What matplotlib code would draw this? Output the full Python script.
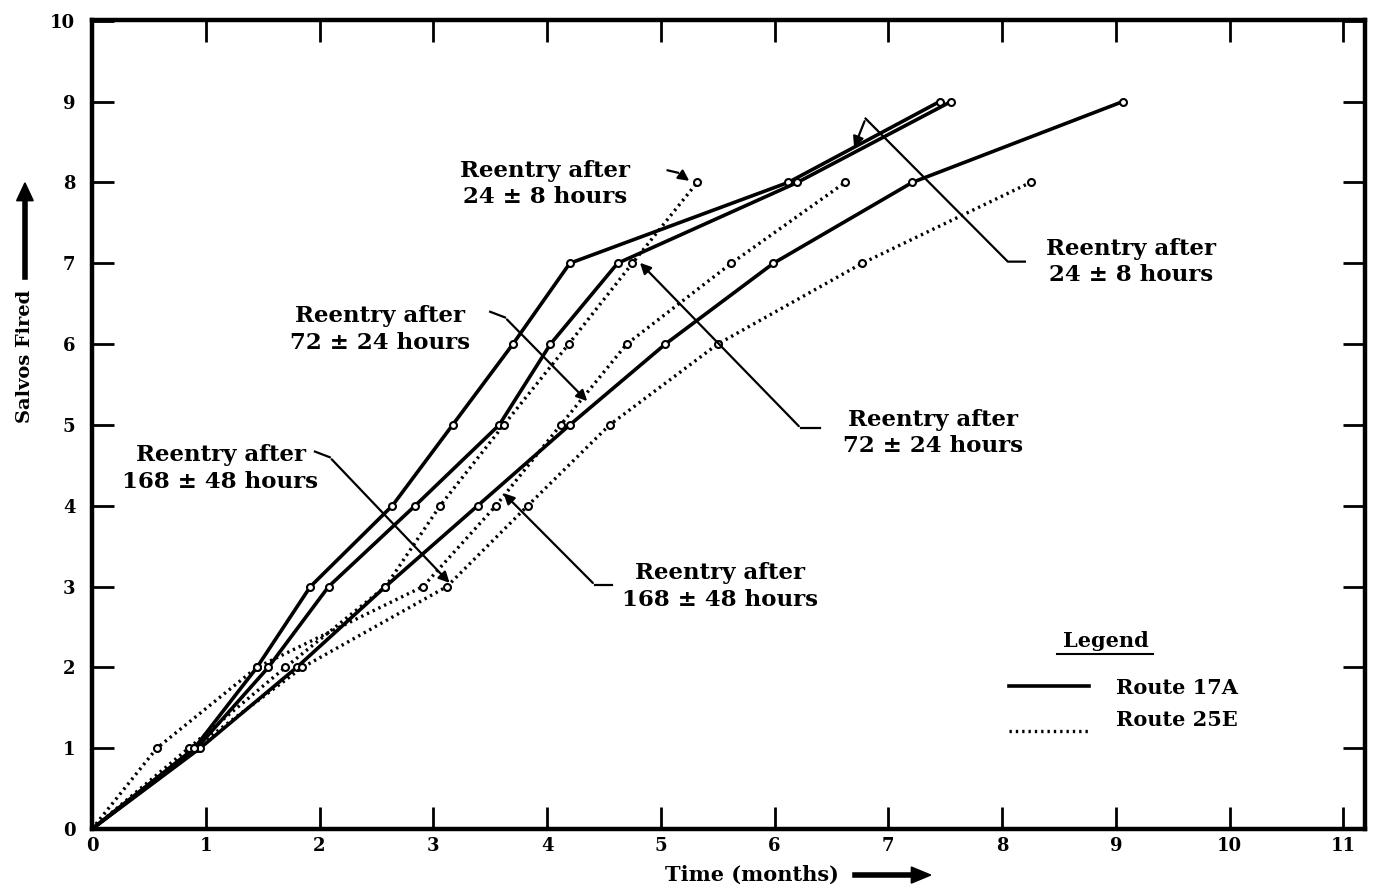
import numpy as np
import matplotlib.pyplot as plt

# salvos fired (0..9 or 0..8) vs time in months
salvos_9 = [0, 1, 2, 3, 4, 5, 6, 7, 8, 9]
salvos_8 = [0, 1, 2, 3, 4, 5, 6, 7, 8]

# Route 17A (solid)
r17_24h = [0, 0.9, 1.45, 1.92, 2.64, 3.17, 3.7, 4.2, 6.12, 7.45]
r17_72h = [0, 0.92, 1.55, 2.08, 2.84, 3.58, 4.03, 4.62, 6.2, 7.55]
r17_168h = [0, 0.95, 1.8, 2.58, 3.39, 4.2, 5.04, 5.99, 7.21, 9.06]

# Route 25E (dotted)
r25_24h = [0, 0.85, 1.7, 2.58, 3.06, 3.62, 4.19, 4.75, 5.32]
r25_72h = [0, 0.57, 1.45, 2.91, 3.55, 4.12, 4.7, 5.62, 6.62]
r25_168h = [0, 0.9, 1.85, 3.12, 3.83, 4.55, 5.5, 6.77, 8.25]

plt.rcParams['font.family'] = ['DejaVu Serif']
plt.rcParams['font.weight'] = 'bold'

fig = plt.figure(figsize=(13.85, 8.92), dpi=100)
ax = fig.add_axes([0.0664, 0.0706, 0.9192, 0.907])

solid = dict(color='black', lw=2.6, marker='o', ms=5, mfc='white', mew=1.5)
dotted = dict(color='black', lw=2.4, ls=(0, (0.7, 1.2)), marker='o', ms=5, mfc='white', mew=1.5)

ax.plot(r17_24h, salvos_9, **solid)
ax.plot(r17_72h, salvos_9, **solid)
ax.plot(r17_168h, salvos_9, **solid)
ax.plot(r25_24h, salvos_8, **dotted)
ax.plot(r25_72h, salvos_8, **dotted)
ax.plot(r25_168h, salvos_8, **dotted)

ax.set_xlim(0, 11.19)
ax.set_ylim(0, 10.01)
ax.set_xticks(range(0, 12))
ax.set_yticks(range(0, 11))
ax.tick_params(direction='in', length=16, width=2, top=True, right=True, labelsize=13)
ax.tick_params(axis='y', pad=12)
ax.tick_params(axis='x', pad=6)
for s in ax.spines.values():
    s.set_linewidth(3.2)

# annotations: text, then leader line through bends, ending in an arrow
txt = dict(ha='center', va='center', fontsize=16.5, fontweight='bold', linespacing=1.25)
line = dict(color='black', lw=1.6)
arrow = dict(arrowstyle='-|>', color='black', lw=1.6, mutation_scale=16)

def leader(pts):
    xs, ys = zip(*pts)
    ax.plot(xs[:-1], ys[:-1], **line)
    ax.annotate('', xy=pts[-1], xytext=pts[-2], arrowprops=arrow)

ax.text(3.98, 7.98, 'Reentry after\n24 ± 8 hours', **txt)
leader([(5.06, 8.15), (5.15, 8.12), (5.27, 8.0)])

ax.text(9.13, 7.02, 'Reentry after\n24 ± 8 hours', **txt)
leader([(8.2, 7.02), (8.05, 7.02), (6.8, 8.79), (6.69, 8.4)])

ax.text(2.53, 6.18, 'Reentry after\n72 ± 24 hours', **txt)
leader([(3.5, 6.4), (3.63, 6.33), (4.37, 5.27)])

ax.text(7.39, 4.9, 'Reentry after\n72 ± 24 hours', **txt)
leader([(6.4, 4.96), (6.23, 4.96), (4.8, 7.03)])

ax.text(1.13, 4.46, 'Reentry after\n168 ± 48 hours', **txt)
leader([(1.96, 4.67), (2.09, 4.6), (3.16, 3.02)])

ax.text(5.52, 3.0, 'Reentry after\n168 ± 48 hours', **txt)
leader([(4.57, 3.02), (4.42, 3.02), (3.6, 4.18)])

# legend drawn by hand like the original
ax.text(8.91, 2.33, 'Legend', ha='center', va='center', fontsize=15, fontweight='bold')
ax.plot([8.48, 9.33], [2.17, 2.17], color='black', lw=1.5)
ax.plot([8.06, 8.76], [1.77, 1.77], color='black', lw=2.6)
ax.plot([8.06, 8.76], [1.21, 1.21], color='black', lw=2.4, ls=(0, (0.7, 1.2)))
ax.text(9.0, 1.75, 'Route 17A', ha='left', va='center', fontsize=15, fontweight='bold')
ax.text(9.0, 1.35, 'Route 25E', ha='left', va='center', fontsize=15, fontweight='bold')

# axis titles with thick arrows
fig.text(0.543, 0.019, 'Time (months)', ha='center', va='center', fontsize=15, fontweight='bold')
fig.add_artist(plt.Line2D([0.617, 0.662], [0.019, 0.019], color='black', lw=4))
fig.text(0.018, 0.6, 'Salvos Fired', ha='center', va='center', rotation=90,
         fontsize=14, fontweight='bold')
fig.add_artist(plt.Line2D([0.018, 0.018], [0.69, 0.78], color='black', lw=4))
fig.patches.append(plt.Polygon([[0.672, 0.019], [0.658, 0.028], [0.658, 0.010]],
                               closed=True, color='black', transform=fig.transFigure))
fig.patches.append(plt.Polygon([[0.018, 0.795], [0.012, 0.775], [0.024, 0.775]],
                               closed=True, color='black', transform=fig.transFigure))

fig.savefig('out.png', dpi=100)
